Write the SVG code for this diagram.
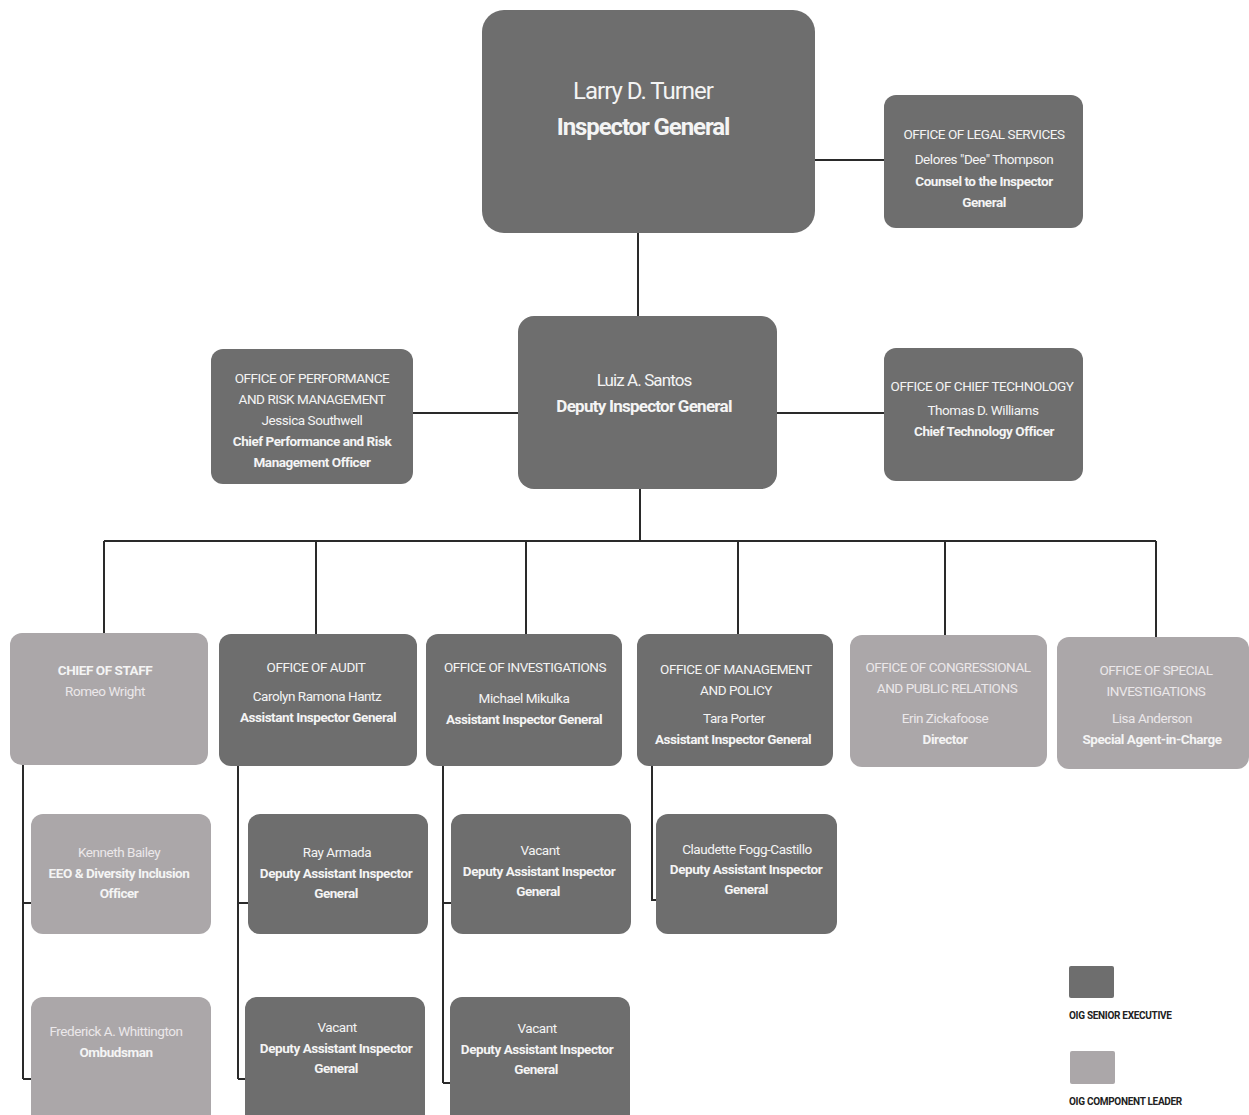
<svg xmlns="http://www.w3.org/2000/svg" width="1249" height="1115" viewBox="0 0 1249 1115">
<style>
.dk{fill:#6e6e6e}
.lt{fill:#aba7a9}
text{font-family:"Roboto","Liberation Sans",sans-serif;text-anchor:middle;fill:#f4f4f4}
.t{font-size:13.5px;letter-spacing:-0.45px}
.b{font-weight:bold}
.lt2{fill:#ebe8ea}
.ln{fill:none;stroke:#2a2a2a;stroke-width:2}
.lg{font-size:10px;fill:#222;text-anchor:start;font-weight:bold;letter-spacing:-0.3px}
</style>
<rect width="1249" height="1115" fill="#fff"/>
<g id="connectors">
<path class="ln" d="M815 160H884M638 233V316M413 413H518M777 413H884M640 489V541M104 541H1156M104 541V633M316 541V634M526 541V634M738 541V634M945 541V635M1156 541V637"/>
<path class="ln" d="M23 765V1079M23 903H31M23 1079H31M238 766V1079M238 903H248M238 1079H245M443 766V1083M443 903H451M443 1083H450M652 766V900H656"/>
</g>
<g id="n-ig"><rect class="dk" x="482" y="10" width="333" height="223" rx="22"/>
<text x="643" y="99" style="font-size:24px;letter-spacing:-1px">Larry D. Turner</text>
<text x="643" y="135" class="b" style="font-size:24px;letter-spacing:-1.1px">Inspector General</text></g>
<g id="n-legal"><rect class="dk" x="884" y="95" width="199" height="133" rx="12"/>
<text class="t" x="984" y="139">OFFICE OF LEGAL SERVICES</text>
<text class="t" x="984" y="164">Delores "Dee" Thompson</text>
<text class="t b" x="984" y="186">Counsel to the Inspector</text>
<text class="t b" x="984" y="207">General</text></g>
<g id="n-deputy"><rect class="dk" x="518" y="316" width="259" height="173" rx="16"/>
<text x="644" y="386" style="font-size:17px;letter-spacing:-0.9px">Luiz A. Santos</text>
<text x="644" y="412" class="b" style="font-size:17px;letter-spacing:-0.75px">Deputy Inspector General</text></g>
<g id="n-perf"><rect class="dk" x="211" y="349" width="202" height="135" rx="12"/>
<text class="t" x="312" y="383">OFFICE OF PERFORMANCE</text>
<text class="t" x="312" y="404">AND RISK MANAGEMENT</text>
<text class="t" x="312" y="425">Jessica Southwell</text>
<text class="t b" x="312" y="446">Chief Performance and Risk</text>
<text class="t b" x="312" y="467">Management Officer</text></g>
<g id="n-tech"><rect class="dk" x="884" y="348" width="199" height="133" rx="12"/>
<text class="t" x="982" y="391">OFFICE OF CHIEF TECHNOLOGY</text>
<text class="t" x="983" y="415">Thomas D. Williams</text>
<text class="t b" x="984" y="436">Chief Technology Officer</text></g>
<g id="n-cos"><rect class="lt" x="10" y="633" width="198" height="132" rx="12"/>
<text class="t b" x="105" y="675">CHIEF OF STAFF</text>
<text class="t lt2" x="105" y="696">Romeo Wright</text></g>
<g id="n-audit"><rect class="dk" x="219" y="634" width="198" height="132" rx="12"/>
<text class="t" x="316" y="672">OFFICE OF AUDIT</text>
<text class="t" x="317" y="701">Carolyn Ramona Hantz</text>
<text class="t b" x="318" y="722">Assistant Inspector General</text></g>
<g id="n-inv"><rect class="dk" x="426" y="634" width="196" height="132" rx="12"/>
<text class="t" x="525" y="672">OFFICE OF INVESTIGATIONS</text>
<text class="t" x="524" y="703">Michael Mikulka</text>
<text class="t b" x="524" y="724">Assistant Inspector General</text></g>
<g id="n-mgmt"><rect class="dk" x="637" y="634" width="196" height="132" rx="12"/>
<text class="t" x="736" y="674">OFFICE OF MANAGEMENT</text>
<text class="t" x="736" y="695">AND POLICY</text>
<text class="t" x="734" y="723">Tara Porter</text>
<text class="t b" x="733" y="744">Assistant Inspector General</text></g>
<g id="n-cong"><rect class="lt" x="850" y="635" width="197" height="132" rx="12"/>
<text class="t lt2" x="948" y="672">OFFICE OF CONGRESSIONAL</text>
<text class="t lt2" x="947" y="693">AND PUBLIC RELATIONS</text>
<text class="t lt2" x="945" y="723">Erin Zickafoose</text>
<text class="t b" x="945" y="744">Director</text></g>
<g id="n-special"><rect class="lt" x="1057" y="637" width="192" height="132" rx="12"/>
<text class="t lt2" x="1156" y="675">OFFICE OF SPECIAL</text>
<text class="t lt2" x="1156" y="696">INVESTIGATIONS</text>
<text class="t lt2" x="1152" y="723">Lisa Anderson</text>
<text class="t b" x="1152" y="744">Special Agent-in-Charge</text></g>
<g id="n-eeo"><rect class="lt" x="31" y="814" width="180" height="120" rx="12"/>
<text class="t lt2" x="119" y="857">Kenneth Bailey</text>
<text class="t b" x="119" y="878">EEO &amp; Diversity Inclusion</text>
<text class="t b" x="119" y="898">Officer</text></g>
<g id="n-omb"><rect class="lt" x="31" y="997" width="180" height="130" rx="12"/>
<text class="t lt2" x="116" y="1036">Frederick A. Whittington</text>
<text class="t b" x="116" y="1057">Ombudsman</text></g>
<g id="n-ray"><rect class="dk" x="248" y="814" width="180" height="120" rx="12"/>
<text class="t" x="337" y="857">Ray Armada</text>
<text class="t b" x="336" y="878">Deputy Assistant Inspector</text>
<text class="t b" x="336" y="898">General</text></g>
<g id="n-audit-vac"><rect class="dk" x="245" y="997" width="180" height="130" rx="12"/>
<text class="t" x="337" y="1032">Vacant</text>
<text class="t b" x="336" y="1053">Deputy Assistant Inspector</text>
<text class="t b" x="336" y="1073">General</text></g>
<g id="n-inv-vac1"><rect class="dk" x="451" y="814" width="180" height="120" rx="12"/>
<text class="t" x="540" y="855">Vacant</text>
<text class="t b" x="539" y="876">Deputy Assistant Inspector</text>
<text class="t b" x="538" y="896">General</text></g>
<g id="n-inv-vac2"><rect class="dk" x="450" y="997" width="180" height="130" rx="12"/>
<text class="t" x="537" y="1033">Vacant</text>
<text class="t b" x="537" y="1054">Deputy Assistant Inspector</text>
<text class="t b" x="536" y="1074">General</text></g>
<g id="n-mgmt-dep"><rect class="dk" x="656" y="814" width="181" height="120" rx="12"/>
<text class="t" x="747" y="854">Claudette Fogg-Castillo</text>
<text class="t b" x="746" y="874">Deputy Assistant Inspector</text>
<text class="t b" x="746" y="894">General</text></g>
<g id="legend">
<rect class="dk" x="1069" y="966" width="45" height="32" rx="2"/>
<text class="lg" x="1069" y="1019">OIG SENIOR EXECUTIVE</text>
<rect class="lt" x="1070" y="1051" width="45" height="33" rx="2"/>
<text class="lg" x="1069" y="1105">OIG COMPONENT LEADER</text>
</g>
</svg>
